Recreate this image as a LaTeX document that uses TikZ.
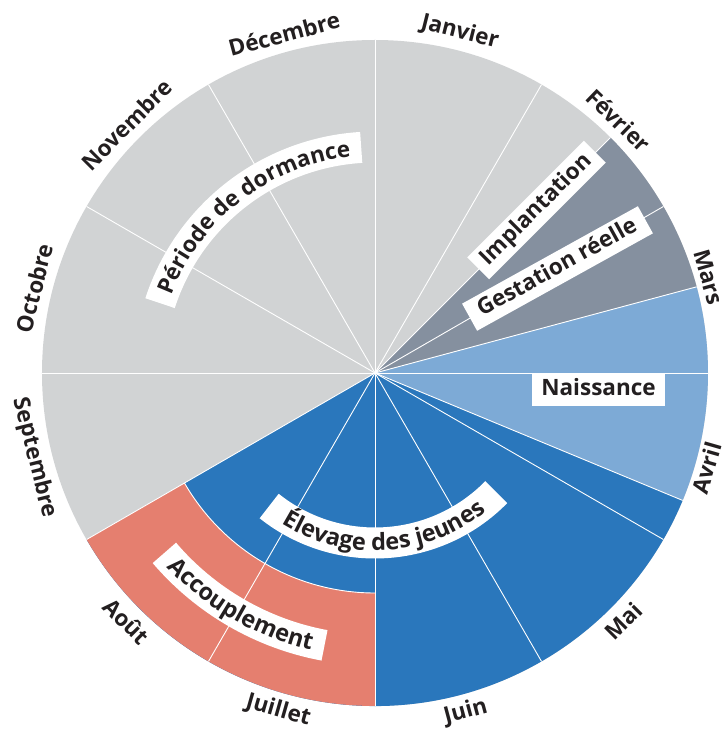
\documentclass[tikz,border=0pt]{standalone}
\usepackage{fontspec}
\setmainfont{Open Sans}
\usetikzlibrary{decorations.text}

\definecolor{ink}{HTML}{231F20}
\definecolor{dormgray}{HTML}{D1D3D4}
\definecolor{gestgray}{HTML}{85909F}
\definecolor{birthblue}{HTML}{7DAAD6}
\definecolor{youngblue}{HTML}{2A77BC}
\definecolor{matingred}{HTML}{E57F6F}

\def\labelfont{\fontsize{22.5pt}{22.5pt}\selectfont\bfseries}
\def\widefont{\fontsize{23.5pt}{23.5pt}\selectfont\bfseries}

\tikzset{
  monthlabel/.style={font=\labelfont, text=ink, inner sep=0pt},
  phasebox/.style={fill=white, text=ink, font=\labelfont, inner sep=0pt, minimum height=31pt, text height=16pt, text depth=4.5pt},
  spoke/.style={white, line width=0.9pt},
  band/.style={white, line width=31pt},
  bandtext/.style={decorate, decoration={text along path, text align=center, text color=ink, text={|\labelfont|#1}}},
  widebandtext/.style={decorate, decoration={text along path, text align=center, text color=ink, text={|\widefont|#1}}}
}

\begin{document}
\begin{tikzpicture}[x=1pt, y=1pt]
			%%%%% START %%%%%
			\useasboundingbox (-375,-363) rectangle (352,373);
			
			% sectors
			\fill[dormgray] (0,0) circle (333);
			\fill[gestgray] (0,0) -- (15:333) arc (15:45:333) -- cycle;
			\fill[birthblue] (0,0) -- (-22.5:333) arc (-22.5:15:333) -- cycle;
			\fill[youngblue] (0,0) -- (-150:333) arc (-150:-22.5:333) -- cycle;
			\fill[matingred] (-150:220) -- (-150:333) arc (-150:-90:333) -- (-90:220) arc (-90:-150:220) -- cycle;
			
			% month spokes
			\draw[spoke] (0,0) -- (90:333);
			\draw[spoke] (0,0) -- (60:333);
			\draw[spoke] (0,0) -- (30:333);
			\draw[spoke] (0,0) -- (0:333);
			\draw[spoke] (0,0) -- (-30:333);
			\draw[spoke] (0,0) -- (-60:333);
			\draw[spoke] (0,0) -- (-90:333);
			\draw[spoke] (0,0) -- (-120:333);
			\draw[spoke] (0,0) -- (-150:333);
			\draw[spoke] (0,0) -- (180:333);
			\draw[spoke] (0,0) -- (150:333);
			\draw[spoke] (0,0) -- (120:333);
			
			% phase borders
			\draw[spoke] (0,0) -- (45:333);
			\draw[spoke] (0,0) -- (15:333);
			\draw[spoke] (0,0) -- (-22.5:333);
			\draw[spoke] (-150:220) arc (-150:-90:220);
			
			% months
			\node[monthlabel, rotate=-14] (jan) at (76:351) {Janvier};
			\node[monthlabel, rotate=-44] (feb) at (46:351) {Février};
			\node[monthlabel, rotate=-74] (mar) at (16:347) {Mars};
			\node[monthlabel, rotate=74] (apr) at (-16:345) {Avril};
			\node[monthlabel, rotate=45] (may) at (-45:351) {Mai};
			\node[monthlabel, rotate=15] (jun) at (-75:351) {Juin};
			\node[monthlabel, rotate=-16] (jul) at (-106:351) {Juillet};
			\node[monthlabel, rotate=-45] (aug) at (-135:351) {Août};
			\node[monthlabel, rotate=-76] (sep) at (-166:351) {Septembre};
			\node[monthlabel, rotate=76] (oct) at (166:351) {Octobre};
			\node[monthlabel, rotate=45] (nov) at (135:351) {Novembre};
			\node[monthlabel, rotate=15] (dec) at (105:351) {Décembre};
			
			% curved phase labels
			\draw[band] (162:226) arc (162:93.5:226);
			\path[bandtext={Période de dormance}] (162:218) arc (162:93.5:218);
			
			\draw[band] (-128.5:170) arc (-128.5:-44.5:170);
			\path[widebandtext={Élevage des jeunes}] (-128.5:177.5) arc (-128.5:-44.5:177.5);
			
			\draw[band] (-139.5:277) arc (-139.5:-100.5:277);
			\path[widebandtext={Accouplement}] (-139.5:284.5) arc (-139.5:-100.5:284.5);
			
			% straight phase labels
			\node[phasebox, minimum width=165pt, rotate=45] (implant) at (161.5,163) {Implantation};
			\node[phasebox, minimum width=201pt, rotate=29] (gest) at (182.5,104.5) {Gestation réelle};
			\node[phasebox, minimum width=133pt, minimum height=33pt] (birth) at (223.5,-16.5) {Naissance};
			
			%%%%% END %%%%%
\end{tikzpicture}
\end{document}
